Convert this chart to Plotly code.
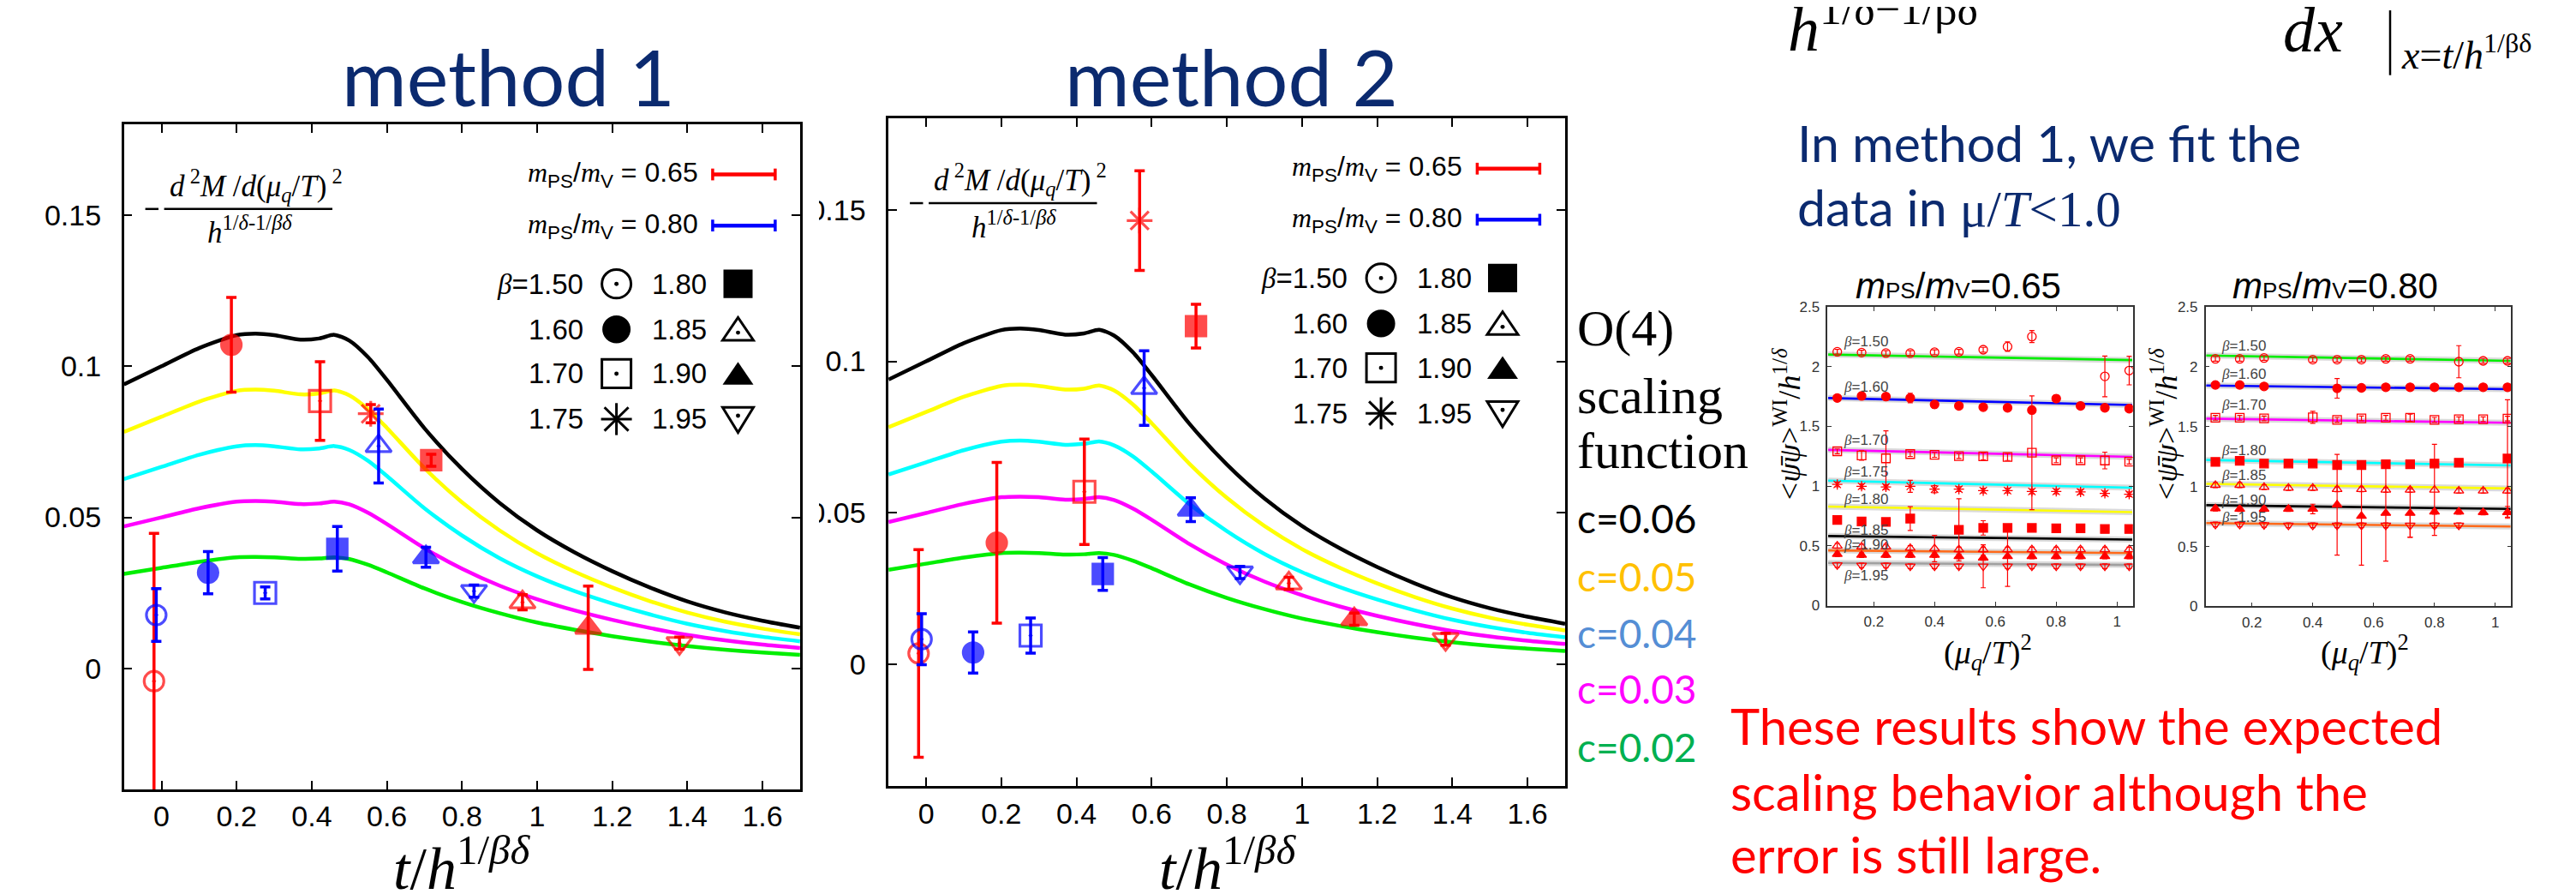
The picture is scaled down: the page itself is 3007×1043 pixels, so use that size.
import plotly.graph_objects as go

W, H = 3007, 1043

# ---------------- data: O(4) scaling-function curves ----------------
T_GRID = [-0.1, 0.0, 0.1, 0.2, 0.25, 0.3, 0.37, 0.42, 0.46, 0.5, 0.55, 0.6,
          0.7, 0.8, 0.9, 1.0, 1.1, 1.2, 1.3, 1.4, 1.5, 1.6, 1.7]
CURVE_C06 = [0.0940, 0.1000, 0.1060, 0.1103, 0.1108, 0.1103, 0.1088, 0.1092, 0.1104, 0.1085, 0.1030, 0.0955,
             0.0795, 0.0660, 0.0548, 0.0457, 0.0384, 0.0322, 0.0268, 0.0222, 0.0186, 0.0158, 0.0135]
CURVE_C05 = [0.0783, 0.0833, 0.0883, 0.0919, 0.0923, 0.0919, 0.0907, 0.0910, 0.0920, 0.0904, 0.0858, 0.0796,
             0.0663, 0.0550, 0.0457, 0.0381, 0.0320, 0.0268, 0.0223, 0.0185, 0.0155, 0.0132, 0.0113]
CURVE_C04 = [0.0627, 0.0667, 0.0707, 0.0735, 0.0739, 0.0735, 0.0725, 0.0728, 0.0736, 0.0723, 0.0687, 0.0637,
             0.0530, 0.0440, 0.0365, 0.0305, 0.0256, 0.0215, 0.0179, 0.0148, 0.0124, 0.0105, 0.0090]
CURVE_C03 = [0.0470, 0.0500, 0.0530, 0.0552, 0.0554, 0.0552, 0.0544, 0.0546, 0.0552, 0.0543, 0.0515, 0.0478,
             0.0398, 0.0330, 0.0274, 0.0229, 0.0192, 0.0161, 0.0134, 0.0111, 0.0093, 0.0079, 0.0068]
CURVE_C02 = [0.0313, 0.0333, 0.0353, 0.0368, 0.0369, 0.0368, 0.0363, 0.0364, 0.0368, 0.0362, 0.0343, 0.0318,
             0.0265, 0.0220, 0.0183, 0.0152, 0.0128, 0.0107, 0.0089, 0.0074, 0.0062, 0.0053, 0.0045]
C_LABELS = ["c=0.06", "c=0.05", "c=0.04", "c=0.03", "c=0.02"]

# ---------------- data: lattice points (main panels) ----------------
RED_BETAS = ["1.50", "1.60", "1.70", "1.75", "1.80", "1.85", "1.90", "1.95"]
BLUE_BETAS = ["1.50", "1.60", "1.70", "1.80", "1.85", "1.90", "1.95"]

M1_RED_X = [-0.020, 0.186, 0.422, 0.557, 0.718, 0.961, 1.136, 1.379]
M1_RED_Y = [-0.0042, 0.1071, 0.0885, 0.0843, 0.0689, 0.0219, 0.0135, 0.0084]
M1_RED_E = [0.0489, 0.0157, 0.0130, 0.0030, 0.0020, 0.0025, 0.0138, 0.0020]
M1_BLUE_X = [-0.014, 0.124, 0.276, 0.468, 0.578, 0.704, 0.832]
M1_BLUE_Y = [0.0177, 0.0317, 0.0250, 0.0396, 0.0736, 0.0368, 0.0256]
M1_BLUE_E = [0.0087, 0.0070, 0.0020, 0.0074, 0.0122, 0.0033, 0.0020]

M2_RED_X = [-0.020, 0.188, 0.421, 0.568, 0.718, 0.965, 1.139, 1.382]
M2_RED_Y = [0.0037, 0.0402, 0.0570, 0.1464, 0.1116, 0.0268, 0.0150, 0.0084]
M2_RED_E = [0.0342, 0.0265, 0.0174, 0.0164, 0.0072, 0.0020, 0.0020, 0.0020]
M2_BLUE_X = [-0.012, 0.125, 0.278, 0.470, 0.580, 0.704, 0.835]
M2_BLUE_Y = [0.0084, 0.0040, 0.0096, 0.0299, 0.0912, 0.0511, 0.0304]
M2_BLUE_E = [0.0084, 0.0068, 0.0058, 0.0054, 0.0123, 0.0039, 0.0020]

MAIN_X_TICKS = [0, 0.2, 0.4, 0.6, 0.8, 1.0, 1.2, 1.4, 1.6]
MAIN_X_TEXT = ["0", "0.2", "0.4", "0.6", "0.8", "1", "1.2", "1.4", "1.6"]
MAIN_Y_TICKS = [0, 0.05, 0.1, 0.15]
MAIN_Y_TEXT = ["0", "0.05", "0.1", "0.15"]

# ---------------- data: small panels (chiral condensate vs (mu/T)^2) ----------------
MU2 = [0.08, 0.16, 0.24, 0.32, 0.40, 0.48, 0.56, 0.64, 0.72, 0.80, 0.88, 0.96, 1.04]
FIT_MU2 = [0.05, 1.05]

A_BETAS = ["1.50", "1.60", "1.70", "1.75", "1.80", "1.85", "1.90", "1.95"]
A150_Y = [2.124, 2.117, 2.113, 2.113, 2.120, 2.124, 2.141, 2.167, 2.251, None, None, 1.918, 1.967]
A150_E = [0.02, 0.02, 0.02, 0.02, 0.02, 0.02, 0.02, 0.04, 0.05, None, None, 0.17, 0.12]
A160_Y = [1.737, 1.754, 1.749, 1.737, 1.683, 1.671, 1.660, 1.655, 1.636, 1.732, 1.671, 1.655, 1.648]
A160_E = [0.02, 0.02, 0.02, 0.04, 0.03, 0.02, 0.02, 0.02, 0.03, 0.03, 0.02, 0.02, 0.02]
A170_Y = [1.291, 1.256, 1.232, 1.268, 1.261, 1.251, 1.249, 1.244, 1.279, 1.216, 1.216, 1.214, 1.204]
A170_E = [0.02, 0.04, 0.23, 0.02, 0.02, 0.02, 0.03, 0.03, 0.476, 0.02, 0.02, 0.07, 0.02]
A175_Y = [1.014, 0.998, 0.993, 0.998, 0.974, 0.974, 0.962, 0.962, 0.955, 0.955, 0.951, 0.939, 0.932]
A175_E = [0.02, 0.02, 0.02, 0.05, 0.03, 0.02, 0.02, 0.02, 0.02, 0.02, 0.02, 0.02, 0.02]
A180_Y = [0.716, 0.704, 0.700, 0.728, None, 0.634, 0.650, 0.650, 0.650, 0.646, 0.646, 0.641, 0.641]
A180_E = [0.02, 0.02, 0.02, 0.10, None, 0.26, 0.06, 0.02, 0.02, 0.02, 0.02, 0.02, 0.02]
A185_Y = [0.500, 0.493, 0.493, 0.481, 0.477, 0.469, 0.469, 0.469, 0.469, 0.469, 0.469, 0.469, 0.469]
A185_E = [0.02, 0.02, 0.02, 0.02, 0.11, 0.02, 0.02, 0.02, 0.02, 0.02, 0.02, 0.02, 0.02]
A190_Y = [0.430, 0.423, 0.423, 0.423, 0.423, 0.411, 0.399, 0.411, 0.411, 0.411, 0.411, 0.411, 0.411]
A190_E = [0.02, 0.02, 0.02, 0.02, 0.02, 0.02, 0.02, 0.25, 0.02, 0.02, 0.02, 0.02, 0.02]
A195_Y = [0.340, 0.336, 0.336, 0.329, 0.329, 0.329, 0.329, 0.329, 0.329, 0.329, 0.329, 0.329, 0.329]
A195_E = [0.02, 0.02, 0.02, 0.02, 0.02, 0.02, 0.18, 0.02, 0.02, 0.02, 0.02, 0.02, 0.02]
A_FIT_LEFT = [2.101, 1.737, 1.303, 1.045, 0.829, 0.582, 0.462, 0.357]
A_FIT_RIGHT = [2.054, 1.678, 1.244, 0.986, 0.782, 0.552, 0.439, 0.340]

B_BETAS = ["1.50", "1.60", "1.70", "1.80", "1.85", "1.90", "1.95"]
B150_Y = [2.066, 2.066, 2.073, None, 2.059, 2.059, 2.059, 2.066, 2.066, None, 2.042, 2.049, 2.049]
B150_E = [0.02, 0.02, 0.02, None, 0.02, 0.02, 0.02, 0.02, 0.02, None, 0.134, 0.02, 0.02]
B160_Y = [1.848, 1.848, 1.836, None, None, 1.820, 1.824, 1.829, 1.829, 1.829, 1.829, 1.829, 1.829]
B160_E = [0.02, 0.02, 0.02, None, None, 0.082, 0.02, 0.02, 0.02, 0.02, 0.02, 0.02, 0.02]
B170_Y = [1.574, 1.574, 1.569, None, 1.578, 1.557, 1.569, 1.574, 1.574, 1.557, 1.562, 1.562, 1.567]
B170_E = [0.02, 0.02, 0.02, None, 0.05, 0.02, 0.02, 0.02, 0.03, 0.02, 0.02, 0.02, 0.02]
B180_Y = [1.206, 1.215, 1.192, 1.192, 1.192, 1.180, 1.180, 1.187, 1.187, 1.192, 1.199, None, 1.234]
B180_E = [0.02, 0.02, 0.02, 0.02, 0.02, 0.02, 0.02, 0.02, 0.02, 0.02, 0.02, None, 0.49]
B185_Y = [1.012, 1.012, 0.995, 0.988, 0.988, 0.977, 0.977, 0.972, 0.972, 0.972, 0.965, 0.965, 0.965]
B185_E = [0.02, 0.02, 0.02, 0.02, 0.02, 0.02, 0.02, 0.02, 0.02, 0.38, 0.02, 0.02, 0.02]
B190_Y = [0.817, 0.813, 0.813, 0.813, 0.813, 0.848, 0.754, 0.778, 0.778, 0.789, 0.789, 0.785, 0.785]
B190_E = [0.02, 0.02, 0.02, 0.02, 0.04, 0.42, 0.41, 0.40, 0.20, 0.02, 0.02, 0.02, 0.05]
B195_Y = [0.684, 0.684, 0.680, 0.677, 0.677, 0.677, 0.677, 0.677, 0.677, 0.677, 0.677, None, None]
B195_E = [0.02, 0.02, 0.02, 0.02, 0.02, 0.02, 0.02, 0.02, 0.10, 0.02, 0.02, None, None]
B_FIT_LEFT = [2.094, 1.843, 1.567, 1.222, 1.023, 0.845, 0.696]
B_FIT_RIGHT = [2.049, 1.813, 1.532, 1.176, 0.984, 0.813, 0.667]

SMALL_X_TICKS = [0.2, 0.4, 0.6, 0.8, 1.0]
SMALL_X_TEXT = ["0.2", "0.4", "0.6", "0.8", "1"]
SMALL_Y_TICKS = [0, 0.5, 1.0, 1.5, 2.0, 2.5]
SMALL_Y_TEXT = ["0", "0.5", "1", "1.5", "2", "2.5"]

# ---------------- styles ----------------
CURVE_COLORS = ["#000000", "#ffff00", "#00ffff", "#ff00ff", "#00ee00"]
C_LABEL_COLORS = ["#000000", "#ffc000", "#558ed5", "#ff00ff", "#00b050"]
SYMBOL = {"1.50": "circle-open-dot", "1.60": "circle", "1.70": "square-open-dot", "1.75": "asterisk-open",
          "1.80": "square", "1.85": "triangle-up-open-dot", "1.90": "triangle-up", "1.95": "triangle-down-open-dot"}
MAIN_SIZE = {"1.50": 23, "1.60": 23, "1.70": 25, "1.75": 25, "1.80": 23, "1.85": 26, "1.90": 26, "1.95": 26}
SMALL_SYMBOL = {"1.50": "circle-open", "1.60": "circle", "1.70": "square-open", "1.75": "asterisk-open",
                "1.80": "square", "1.85": "triangle-up-open", "1.90": "triangle-up", "1.95": "triangle-down-open"}
A_FIT_COLORS = ["#00ee00", "#0000ff", "#ff00ff", "#00ffff", "#ffff00", "#000000", "#ff6a1a", "#a0a0a0"]
B_FIT_COLORS = ["#00ee00", "#0000ff", "#ff00ff", "#00ffff", "#ffff00", "#000000", "#ff6a1a"]
A_LABEL_Y = [2.207, 1.826, 1.385, 1.122, 0.892, 0.634, 0.509, 0.251]
B_LABEL_Y = [2.176, 1.941, 1.679, 1.300, 1.094, 0.890, 0.747]
LABEL_MU2 = 0.094
RED, BLUE = "#ff0000", "#0000ff"
NAVY = "#0b2a6f"


def X(px):
    return px / W


def Y(py):
    return 1 - py / H


fig = go.Figure()

# ---- main panels ----
curves = [CURVE_C06, CURVE_C05, CURVE_C04, CURVE_C03, CURVE_C02]
for ax in ["", "2"]:
    for cv, col in zip(curves, CURVE_COLORS):
        fig.add_trace(go.Scatter(x=T_GRID, y=cv, mode="lines", xaxis="x" + ax, yaxis="y" + ax,
                                 line=dict(color=col, width=4.5, shape="spline", smoothing=0.7),
                                 hoverinfo="skip"))

main_sets = [("", M1_RED_X, M1_RED_Y, M1_RED_E, RED_BETAS, RED),
             ("", M1_BLUE_X, M1_BLUE_Y, M1_BLUE_E, BLUE_BETAS, BLUE),
             ("2", M2_RED_X, M2_RED_Y, M2_RED_E, RED_BETAS, RED),
             ("2", M2_BLUE_X, M2_BLUE_Y, M2_BLUE_E, BLUE_BETAS, BLUE)]
for ax, xs, ys, es, bs, col in main_sets:
    fig.add_trace(go.Scatter(
        x=xs, y=ys, mode="markers", xaxis="x" + ax, yaxis="y" + ax,
        marker=dict(symbol=[SYMBOL[b] for b in bs], size=[MAIN_SIZE[b] for b in bs],
                    color=col, line=dict(color=col, width=3.2)),
        error_y=dict(type="data", array=es, color=col, thickness=3.5, width=6)))

# ---- small panels ----
small_sets = [
    ("3", A_BETAS, [A150_Y, A160_Y, A170_Y, A175_Y, A180_Y, A185_Y, A190_Y, A195_Y],
     [A150_E, A160_E, A170_E, A175_E, A180_E, A185_E, A190_E, A195_E], A_FIT_LEFT, A_FIT_RIGHT, A_FIT_COLORS),
    ("4", B_BETAS, [B150_Y, B160_Y, B170_Y, B180_Y, B185_Y, B190_Y, B195_Y],
     [B150_E, B160_E, B170_E, B180_E, B185_E, B190_E, B195_E], B_FIT_LEFT, B_FIT_RIGHT, B_FIT_COLORS),
]
for ax, bs, Ys, Es, fl, fr, fc in small_sets:
    for l, r, c in zip(fl, fr, fc):
        fig.add_trace(go.Scatter(x=FIT_MU2, y=[l, r], mode="lines", xaxis="x" + ax, yaxis="y" + ax,
                                 line=dict(color="rgba(150,150,150,0.35)", width=7), hoverinfo="skip"))
        fig.add_trace(go.Scatter(x=FIT_MU2, y=[l, r], mode="lines", xaxis="x" + ax, yaxis="y" + ax,
                                 line=dict(color=c, width=2.6), hoverinfo="skip"))
    for b, yv, ev in zip(bs, Ys, Es):
        fig.add_trace(go.Scatter(
            x=MU2, y=yv, mode="markers", xaxis="x" + ax, yaxis="y" + ax,
            marker=dict(symbol=SMALL_SYMBOL[b], size=10, color=RED, line=dict(color=RED, width=1.3)),
            error_y=dict(type="data", array=ev, color=RED, thickness=1.2, width=3)))

ANN = []
SH = []


def text(px, py, s, size, color="black", family="Liberation Sans", xa="left", ya="middle", angle=0):
    ANN.append(dict(x=X(px), y=Y(py), xref="paper", yref="paper", text=s, showarrow=False,
                    font=dict(family=family, size=size, color=color), xanchor=xa, yanchor=ya,
                    textangle=angle))


def line(x0, y0, x1, y1, color="black", w=3):
    SH.append(dict(type="line", xref="paper", yref="paper", x0=X(x0), y0=Y(y0), x1=X(x1), y1=Y(y1),
                   line=dict(color=color, width=w), layer="above"))


def circ(cx, cy, r, filled=False, w=3):
    SH.append(dict(type="circle", xref="paper", yref="paper", x0=X(cx - r), x1=X(cx + r),
                   y0=Y(cy + r), y1=Y(cy - r), line=dict(color="black", width=0 if filled else w),
                   fillcolor="black" if filled else "rgba(0,0,0,0)", layer="above"))


def rect(x0, y0, x1, y1, fill=None, lc="black", w=3):
    SH.append(dict(type="rect", xref="paper", yref="paper", x0=X(x0), x1=X(x1), y0=Y(y1), y1=Y(y0),
                   line=dict(color=lc, width=w), fillcolor=fill or "rgba(0,0,0,0)", layer="above"))


def poly(pts, filled=False, w=3):
    d = "M " + " L ".join(f"{X(a):.6f},{Y(b):.6f}" for a, b in pts) + " Z"
    SH.append(dict(type="path", xref="paper", yref="paper", path=d,
                   line=dict(color="black", width=0 if filled else w),
                   fillcolor="black" if filled else "rgba(0,0,0,0)", layer="above"))


def key(b, cx, cy):
    if b == "1.50":
        circ(cx, cy, 17); circ(cx, cy, 2.5, filled=True)
    elif b == "1.60":
        circ(cx, cy, 16.5, filled=True)
    elif b == "1.70":
        rect(cx - 17, cy - 17, cx + 17, cy + 17); circ(cx, cy, 2.5, filled=True)
    elif b == "1.75":
        line(cx, cy - 19, cx, cy + 19); line(cx - 18, cy, cx + 18, cy)
        line(cx - 14, cy - 14, cx + 14, cy + 14); line(cx - 14, cy + 14, cx + 14, cy - 14)
    elif b == "1.80":
        rect(cx - 17, cy - 17, cx + 17, cy + 17, fill="black", w=0)
    elif b == "1.85":
        poly([(cx - 18, cy + 13), (cx + 18, cy + 13), (cx, cy - 14)]); circ(cx, cy + 4, 2.5, filled=True)
    elif b == "1.90":
        poly([(cx - 18, cy + 13), (cx + 18, cy + 13), (cx, cy - 14)], filled=True)
    elif b == "1.95":
        poly([(cx - 18, cy - 14), (cx + 18, cy - 14), (cx, cy + 16)]); circ(cx, cy - 4, 2.5, filled=True)


SERIF = "Liberation Serif"
mlabel = ("<span style='font-family:Liberation Serif'><i>m</i></span><sub>PS</sub>/"
          "<span style='font-family:Liberation Serif'><i>m</i></span><sub>V</sub> = ")
for fx, fy in [(136.7, 130.6), (1029.2, 123.7)]:
    for val, col, dy in [("0.65", RED, 59.4), ("0.80", BLUE, 120.1)]:
        text(fx + 671.9, fy + dy, mlabel + val, 32, xa="right")
        line(fx + 686.2, fy + dy, fx + 761.2, fy + dy, color=col, w=4.5)
        line(fx + 687.2, fy + dy - 7, fx + 687.2, fy + dy + 7, color=col, w=3.5)
        line(fx + 760.2, fy + dy - 7, fx + 760.2, fy + dy + 7, color=col, w=3.5)
    rows = [189.4, 243.4, 296.1, 350.1]
    col1 = ["1.50", "1.60", "1.70", "1.75"]
    col2 = ["1.80", "1.85", "1.90", "1.95"]
    for i, ry in enumerate(rows):
        lab = ("<span style='font-family:Liberation Serif'><i>β</i></span>=" if i == 0 else "") + col1[i]
        text(fx + 538.2, fy + ry, lab, 33, xa="right")
        key(col1[i], fx + 574.9, fy + ry)
        text(fx + 614.7, fy + ry, col2[i], 33, xa="left")
        key(col2[i], fx + 716.8, fy + ry)
    # formula
    line(fx + 24.9, fy + 100.4, fx + 40.3, fy + 100.4, w=2.5)
    line(fx + 46.9, fy + 100.4, fx + 243.3, fy + 100.4, w=2.5)
    text(fx + 154, fy + 72.7, "<i>d</i><sup> 2</sup><i>M</i> /<i>d</i>(<i>μ<sub>q</sub></i>/<i>T</i>)<sup> 2</sup>",
         35, family=SERIF, xa="center")
    text(fx + 146.3, fy + 126, "<i>h</i><sup>1/<i>δ</i>-1/<i>βδ</i></sup>", 35, family=SERIF, xa="center")

# mask that crops the left part of the second panel's tick labels (slide crop)
SH.append(dict(type="rect", xref="paper", yref="paper", x0=X(930), x1=X(948), y0=Y(640), y1=Y(190),
               line=dict(width=0), fillcolor="white", layer="above"))

# x titles of main panels
for cx in [531, 1425]:
    text(cx, 1056, "<i>t</i>/<i>h</i><sup>1/<i>βδ</i></sup>", 70, family=SERIF, xa="center", ya="bottom")

# titles
text(585, 73, "method 1", 92, color=NAVY, family="Lato", xa="center")
text(1429, 73, "method 2", 92, color=NAVY, family="Lato", xa="center")

# O(4) scaling function + c labels
text(1831, 373, "O(4)", 60, family=SERIF)
text(1831, 453, "scaling", 60, family=SERIF)
text(1831, 518, "function", 60, family=SERIF)
for lab, col, yy in zip(C_LABELS, C_LABEL_COLORS, [598.5, 667.4, 734.4, 801.3, 870.2]):
    text(1831, yy, lab, 46, color=col, family="Lato")

# top-right formula fragments (cut by the slide's top edge)
text(2077, 61, "<i>h</i><sup>1/δ−1/βδ</sup>", 74, family=SERIF, ya="bottom")
text(2655, 62, "<i>dx</i>", 74, family=SERIF, ya="bottom")
line(2782, -5, 2782, 72, w=2.5)
text(2793, 76, "<i>x</i>=<i>t</i>/<i>h</i><sup>1/βδ</sup>", 46, family=SERIF, ya="bottom")

# blue remark
text(2088, 152, "In method 1, we fit the", 59, color=NAVY, family="Lato")
text(2088, 229, "data in <span style='font-family:Liberation Serif'>μ/<i>T</i>&lt;1.0</span>", 59,
     color=NAVY, family="Lato")

# red remark
for s, yy in [("These results show the expected", 845), ("scaling behavior although the", 923),
              ("error is still large.", 998)]:
    text(2010, yy, s, 58, color=RED, family="Lato")

# small panel titles / axis titles
for cx, val in [(2278, "0.65"), (2718, "0.80")]:
    text(cx, 322, "<i>m</i><span style='font-size:26px'>PS</span>/<i>m</i><span style='font-size:26px'>V</span>=" + val,
         42, xa="center")
for cx in [2312, 2752]:
    text(cx, 758, "(<i>μ<sub>q</sub></i>/<i>T</i>)<sup>2</sup>", 38, family=SERIF, xa="center")
for cx in [2078, 2518]:
    text(cx, 486, "&lt;<i>ψ̄ψ</i>&gt;<sup>WI</sup>/<i>h</i><sup>1/<i>δ</i></sup>", 36, family=SERIF,
         xa="center", angle=-90)

# beta labels inside small panels
for ax, bs, ly in [("3", A_BETAS, A_LABEL_Y), ("4", B_BETAS, B_LABEL_Y)]:
    for b, yy in zip(bs, ly):
        ANN.append(dict(x=LABEL_MU2, y=yy, xref="x" + ax, yref="y" + ax, showarrow=False,
                        text="<span style='font-family:Liberation Serif'><i>β</i></span>=" + b,
                        font=dict(family="Liberation Sans", size=17, color="#444"),
                        xanchor="left", yanchor="middle"))

main_ax = dict(showline=True, linecolor="black", linewidth=2.5, mirror="allticks", ticks="inside",
               ticklen=10, tickwidth=2, tickcolor="black", showgrid=False, zeroline=False,
               tickfont=dict(family="Liberation Sans", size=34, color="black"))
small_ax = dict(showline=True, linecolor="#333", linewidth=1.5, mirror="allticks", ticks="inside",
                ticklen=5, tickwidth=1.2, tickcolor="#333", showgrid=False, zeroline=False,
                tickfont=dict(family="Liberation Sans", size=17, color="#333"))

fig.update_layout(
    width=W, height=H, margin=dict(l=0, r=0, t=0, b=0),
    paper_bgcolor="white", plot_bgcolor="white", showlegend=False,
    xaxis=dict(main_ax, domain=[X(136.7), X(925.9)], anchor="y", range=[-0.1, 1.7],
               tickvals=MAIN_X_TICKS, ticktext=MAIN_X_TEXT, ticklabelstandoff=0),
    yaxis=dict(main_ax, domain=[Y(920.7), Y(130.6)], anchor="x", range=[-0.04, 0.18],
               tickvals=MAIN_Y_TICKS, ticktext=MAIN_Y_TEXT, ticklabelstandoff=17),
    xaxis2=dict(main_ax, domain=[X(1029.2), X(1819)], anchor="y2", range=[-0.1, 1.7],
                tickvals=MAIN_X_TICKS, ticktext=MAIN_X_TEXT, ticklabelstandoff=0),
    yaxis2=dict(main_ax, domain=[Y(916.7), Y(123.7)], anchor="x2", range=[-0.04, 0.18],
                tickvals=MAIN_Y_TICKS, ticktext=MAIN_Y_TEXT, ticklabelstandoff=17),
    xaxis3=dict(small_ax, domain=[X(2125.3), X(2481.7)], anchor="y3", range=[0.048, 1.052],
                tickvals=SMALL_X_TICKS, ticktext=SMALL_X_TEXT, ticklabelstandoff=2),
    yaxis3=dict(small_ax, domain=[Y(702.3), Y(347.3)], anchor="x3", range=[0, 2.5],
                tickvals=SMALL_Y_TICKS, ticktext=SMALL_Y_TEXT, ticklabelstandoff=4),
    xaxis4=dict(small_ax, domain=[X(2566.7), X(2923.3)], anchor="y4", range=[0.048, 1.052],
                tickvals=SMALL_X_TICKS, ticktext=SMALL_X_TEXT, ticklabelstandoff=2),
    yaxis4=dict(small_ax, domain=[Y(703.3), Y(347.3)], anchor="x4", range=[0, 2.5],
                tickvals=SMALL_Y_TICKS, ticktext=SMALL_Y_TEXT, ticklabelstandoff=4),
    annotations=ANN, shapes=SH,
)

fig.write_html("out.html")
